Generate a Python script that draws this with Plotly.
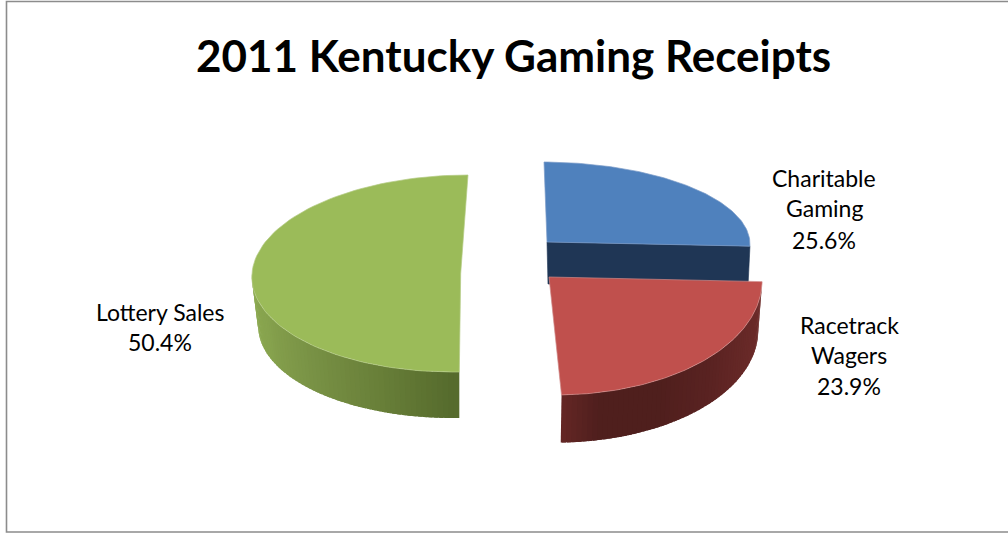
import numpy as np
import plotly.graph_objects as go

TITLE = "2011 Kentucky Gaming Receipts"
categories = ["Charitable Gaming", "Racetrack Wagers", "Lottery Sales"]
values = [25.6, 23.9, 50.4]
label_lines = [["Charitable", "Gaming", "25.6%"], ["Racetrack", "Wagers", "23.9%"], ["Lottery Sales", "50.4%"]]

top_colors = ["#4f81bd", "#c0504d", "#9bbb59"]
edge_colors = ["#7c9cc8", "#d08a88", "#b5cc85"]
cut_color = "#1f3655"
side_stops = {
    1: ["#6e2a29", "#4f1f1d", "#4f1f1d", "#5a2322", "#6d2c2a"],
    2: ["#8dab51", "#87a34e", "#7a9346", "#6a813a", "#566b2d"],
}

# Pixel-space projection of each exploded slice: centre, x-axis, y-axis, base centre, base scale
proj = [
    dict(c=(547, 242), u=(203, 1), v=(3, 80), b=(548, 284), s=0.985),
    dict(c=(549, 277), u=(213, 0), v=(6.5, 118), b=(548.4, 326.4), s=0.985),
    dict(c=(460.7, 273.5), u=(208.7, 0), v=(-7.3, 98.5), b=(460.7, 322.5), s=0.97),
]
label_x = [824, 849, 160]
label_y = [[178, 208, 240], [325, 355, 386], [312, 342]]


def hex2rgb(h):
    return np.array([int(h[i:i + 2], 16) for i in (1, 3, 5)], float)


def stop_color(stops, t):
    pos = t * (len(stops) - 1)
    i = min(int(pos), len(stops) - 2)
    col = hex2rgb(stops[i]) * (1 - (pos - i)) + hex2rgb(stops[i + 1]) * (pos - i)
    return "rgb(%d,%d,%d)" % tuple(col)


def top_pt(p, th):
    return (p["c"][0] + np.sin(th) * p["u"][0] - np.cos(th) * p["v"][0],
            p["c"][1] + np.sin(th) * p["u"][1] - np.cos(th) * p["v"][1])


def base_pt(p, th):
    return (p["b"][0] + p["s"] * (np.sin(th) * p["u"][0] - np.cos(th) * p["v"][0]),
            p["b"][1] + p["s"] * (np.sin(th) * p["u"][1] - np.cos(th) * p["v"][1]))


def poly(xs, ys, fill, line=None, name="", width=0.6):
    return go.Scatter(x=xs, y=ys, mode="lines", fill="toself", fillcolor=fill, name=name,
                      line=dict(color=line or fill, width=width), hoverinfo="skip",
                      showlegend=False)


fig = go.Figure()
total = sum(values)
edges = np.concatenate([[0], np.cumsum(values)]) / total * 2 * np.pi

for i, name in enumerate(categories):
    p = proj[i]
    a0, a1 = edges[i], edges[i + 1]
    # inner cut face on the first slice
    if i == 0:
        t = top_pt(p, a1)
        b = base_pt(p, a1)
        fig.add_trace(poly([p["c"][0], t[0], b[0], p["b"][0], p["c"][0]],
                           [p["c"][1], t[1], b[1], p["b"][1], p["c"][1]], cut_color, name=name))
    # outer wall strips, only the front of the rim is visible
    if i in side_stops:
        hi = min(a1, 1.5 * np.pi)
        n = 60
        th = np.linspace(a0, hi, n + 1)
        for k in range(n):
            mid = (th[k] + th[k + 1]) / 2
            if i == 1:
                f = (np.sin(mid) + 0.05) / 1.05   # left to right along the wall
            else:
                f = 1 - (mid - np.pi) / (0.5 * np.pi)
            f = float(np.clip(f, 0, 1))
            seg = np.linspace(th[k], th[k + 1] + 0.02, 4)
            seg = np.minimum(seg, hi)
            tp = [top_pt(p, s) for s in seg]
            bp = [base_pt(p, s) for s in seg[::-1]]
            pts = tp + bp + tp[:1]
            fig.add_trace(poly([q[0] for q in pts], [q[1] for q in pts],
                               stop_color(side_stops[i], f), name=name, width=0))
    # top face
    th = np.linspace(a0, a1, 90)
    pts = [p["c"]] + [top_pt(p, s) for s in th] + [p["c"]]
    fig.add_trace(poly([q[0] for q in pts], [q[1] for q in pts], top_colors[i], edge_colors[i], name, 0.7))

annotations = []
for lines, x, ys in zip(label_lines, label_x, label_y):
    for line, y in zip(lines, ys):
        annotations.append(dict(text=line, x=x, y=y, xref="x", yref="y", showarrow=False,
                                xanchor="center", yanchor="middle",
                                font=dict(family="Lato", size=23, color="#000000")))
annotations.append(dict(text="<b>%s</b>" % TITLE, x=513.5, y=55, xref="x", yref="y", showarrow=False,
                        xanchor="center", yanchor="middle",
                        font=dict(family="Lato", size=44, color="#000000")))

fig.update_layout(
    width=1008, height=533, autosize=False,
    margin=dict(l=0, r=0, t=0, b=0),
    paper_bgcolor="#ffffff", plot_bgcolor="#ffffff",
    showlegend=False,
    xaxis=dict(range=[0, 1008], visible=False, fixedrange=True),
    yaxis=dict(range=[533, 0], visible=False, fixedrange=True),
    annotations=annotations,
    shapes=[dict(type="rect", x0=6.5, y0=1.5, x1=1012, y1=532, xref="x", yref="y",
                 line=dict(color="#8c8c8c", width=1.6), layer="below")],
)
fig.write_html("out.html", post_script="document.body.style.margin='0';",
               config={"displayModeBar": False})
